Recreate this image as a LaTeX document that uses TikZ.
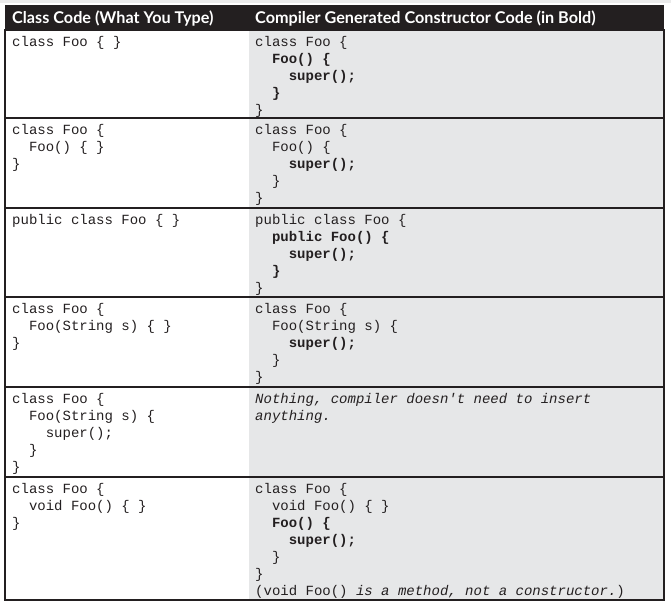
\documentclass[tikz,border=0pt]{standalone}
\usepackage{fontspec}
\setmonofont{Liberation Mono}
\newfontfamily\headfont{Lato}
\usetikzlibrary{positioning}
\definecolor{headbg}{HTML}{231F20}
\definecolor{cellgray}{HTML}{E6E7E8}
\definecolor{ink}{HTML}{231F20}
\newcommand{\fl}{\rule{0pt}{12pt}}
\newcommand{\tb}{\hspace*{16.8pt}}

\begin{document}
\begin{tikzpicture}[x=1pt, y=-1pt,
    code/.style={anchor=north west, inner sep=0pt, align=left, text=ink,
      font=\ttfamily\fontsize{14}{17}\selectfont},
    head/.style={anchor=base west, inner sep=0pt, text=white,
      font=\headfont\bfseries\fontsize{16.2}{18}\selectfont}]
   \useasboundingbox (0,0) rectangle (671,603);
   % frame, header bar and shaded column
   \fill[black!8] (0,0) rectangle (671,2.8);
   \fill[headbg] (5,5) rectangle (664,30);
   \fill[cellgray] (249,30) rectangle (664,600);
   \draw[ink, line width=1.2pt] (5,30) rectangle (664,600);
   \foreach \y in {118,208,297,387,477}
     \draw[ink, line width=1.2pt] (5,\y) -- (664,\y);
   % header
   \node[head] (hl) at (12,23.5) {Class Code (What You Type)};
   \node[head] (hr) at (255,23.5) {Compiler Generated Constructor Code (in Bold)};
   % what you type
   \begin{scope}[every node/.style={code}]
    \node (l1) at (12,34.5) {\fl class Foo \{ \}};
    \node (l2) at (12,122.5) {\fl class Foo \{\\ \tb Foo() \{ \}\\ \}};
    \node (l3) at (12,212.5) {\fl public class Foo \{ \}};
    \node (l4) at (12,301.5) {\fl class Foo \{\\ \tb Foo(String s) \{ \}\\ \}};
    \node (l5) at (12,391.5) {\fl class Foo \{\\ \tb Foo(String s) \{\\ \tb\tb super();\\ \tb\}\\ \}};
    \node (l6) at (12,481.5) {\fl class Foo \{\\ \tb void Foo() \{ \}\\ \}};
   \end{scope}
   % what the compiler generates
   \begin{scope}[every node/.style={code}]
    \node (r1) at (255,34.5) {\fl class Foo \{\\ \tb\textbf{Foo() \{}\\ \tb\tb\textbf{super();}\\ \tb\textbf{\}}\\ \}};
    \node (r2) at (255,122.5) {\fl class Foo \{\\ \tb Foo() \{\\ \tb\tb\textbf{super();}\\ \tb\}\\ \}};
    \node (r3) at (255,212.5) {\fl public class Foo \{\\ \tb\textbf{public Foo() \{}\\ \tb\tb\textbf{super();}\\ \tb\textbf{\}}\\ \}};
    \node (r4) at (255,301.5) {\fl class Foo \{\\ \tb Foo(String s) \{\\ \tb\tb\textbf{super();}\\ \tb\}\\ \}};
    \node (r5) at (255,391.5) {\fl\textit{Nothing, compiler doesn't need to insert}\\ \textit{anything.}};
    \node (r6) at (255,481.5) {\fl class Foo \{\\ \tb void Foo() \{ \}\\ \tb\textbf{Foo() \{}\\ \tb\tb\textbf{super();}\\ \tb\}\\ \}\\ (void Foo() \textit{is a method, not a constructor.})};
   \end{scope}
\end{tikzpicture}
\end{document}
